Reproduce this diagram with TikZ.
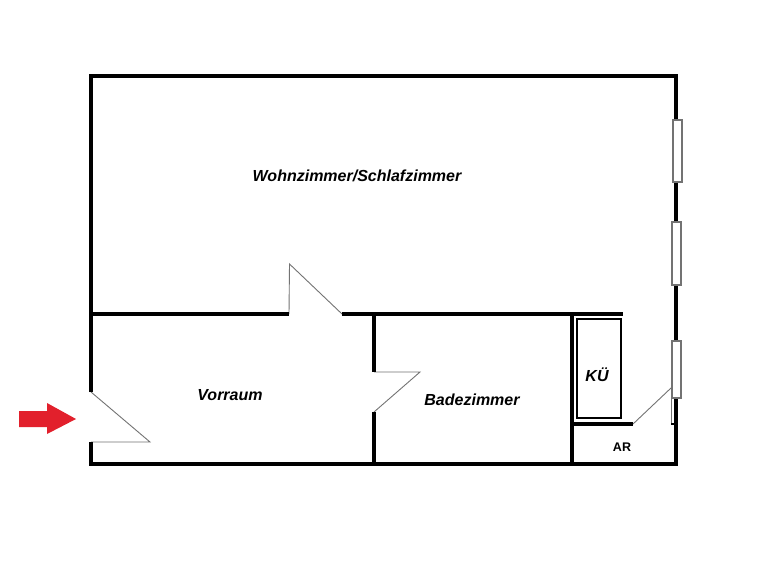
\documentclass[tikz,border=0pt]{standalone}
\usepackage{fontspec}
\setmainfont{Liberation Sans}
\definecolor{arrowred}{HTML}{E2202C}
\tikzset{
  wall/.style={draw=black,line width=4pt,line cap=butt,line join=miter},
  door/.style={draw=black!55,line width=0.9pt,line join=miter},
  win/.style={draw=black!55,fill=white,line width=1.1pt},
  room/.style={font=\bfseries\itshape\fontsize{16}{18}\selectfont,inner sep=0pt},
  small/.style={font=\bfseries\fontsize{12.5}{14}\selectfont,inner sep=0pt}
}
\begin{document}
\begin{tikzpicture}[x=1pt,y=-1pt]
\useasboundingbox (0,0) rectangle (760,568);
\fill[white] (0,0) rectangle (760,568);
% doors
\draw[door] (289,314) -- (289.5,264) -- (342,314);
\draw[door] (374,372) -- (420,372) -- (374,412);
\draw[door] (91,392) -- (150,442) -- (91,442);
\draw[door] (633,424) -- (671,388);
\draw[door] (671,398) -- (671,424);
% outer walls
\draw[wall] (91,392) -- (91,76) -- (676,76) -- (676,464) -- (91,464) -- (91,442);
% inner walls
\draw[wall] (91,314) -- (289,314);
\draw[wall] (342,314) -- (623,314);
\draw[wall] (374,314) -- (374,372);
\draw[wall] (374,412) -- (374,464);
\draw[wall] (572,314) -- (572,464);
\draw[wall] (572,424) -- (633,424);
\draw[draw=black,line width=2pt] (671,423.5) -- (676,423.5);
% kitchen unit
\draw[draw=black,line width=2.4pt] (577,319) rectangle (621,418);
% windows
\draw[win] (673,120) rectangle (682,182);
\draw[win] (672,222) rectangle (681,285);
\draw[win] (672,341) rectangle (681,398);
% entrance arrow
\fill[arrowred] (19,411) -- (47,411) -- (47,403) -- (76,419) -- (47,434) -- (47,427) -- (19,427) -- cycle;
% labels
\node[room] (wohn) at (357,176) {Wohnzimmer/Schlafzimmer};
\node[room] (vor) at (230,395) {Vorraum};
\node[room] (bad) at (472,400) {Badezimmer};
\node[room] (ku) at (597,375) {KÜ};
\node[small] (ar) at (622,447) {AR};
\end{tikzpicture}
\end{document}
